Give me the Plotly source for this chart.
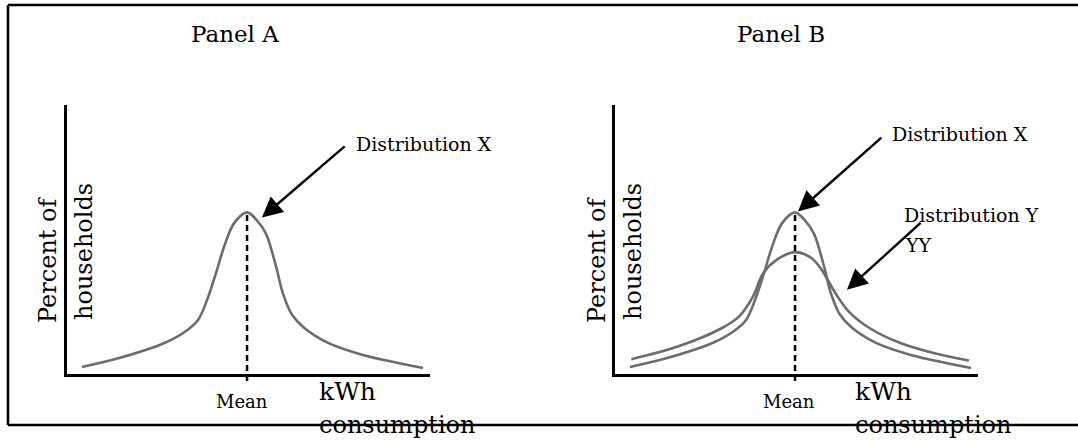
import plotly.graph_objects as go

# ---------------- data ----------------
# Distribution X: kWh consumption (arbitrary units, 0-100) vs percent of households
kwh_x = [4.1, 14.6, 27.0, 32.8, 36.1, 38.6, 41.0, 43.3, 46.0, 49.6, 52.3, 54.8,
         57.6, 59.5, 62.0, 65.3, 71.9, 81.5, 91.2, 98.1]
pct_x = [2.6, 6.0, 11.6, 16.0, 20.1, 27.6, 37.3, 47.4, 56.0, 60.1, 57.1, 52.2,
         39.9, 29.9, 22.0, 17.2, 11.6, 7.1, 4.1, 2.2]
# Distribution Y (panel B only)
kwh_y = [4.5, 17.3, 29.5, 34.2, 38.0, 40.9, 44.6, 49.5, 54.0, 56.9, 60.7, 64.4,
         70.1, 78.6, 88.0, 97.5]
pct_y = [5.5, 10.2, 17.1, 21.4, 28.8, 37.6, 42.5, 45.3, 43.2, 38.8, 30.1, 23.2,
         17.1, 11.5, 7.7, 5.0]
mean_kwh = 49.6

panel_titles = ["Panel A", "Panel B"]
y_title_lines = ["Percent of", "households"]
x_title_lines = ["kWh", "consumption"]
mean_label = "Mean"
label_x = "Distribution X"
label_y_lines = ["Distribution Y", "YY"]

# ---------------- layout helpers ----------------
W, H = 1078, 442
FONT = "DejaVu Serif"


def px(x):
    return x / W


def py(y):
    return 1 - y / H


Y_MIN_EXT = -2.6  # range floor of the helper axis that lets the mean line pass below the x axis

fig = go.Figure()
curve_line = dict(color="#6c6c6c", width=2.6, shape="spline", smoothing=1.0)
mean_line = dict(color="black", width=2.5, dash="6px,4px")

# Panel A
fig.add_trace(go.Scatter(x=kwh_x, y=pct_x, mode="lines", line=curve_line,
                         xaxis="x", yaxis="y", hoverinfo="skip", showlegend=False))
fig.add_trace(go.Scatter(x=[mean_kwh, mean_kwh], y=[Y_MIN_EXT, max(pct_x)], mode="lines",
                         line=mean_line, xaxis="x", yaxis="y3", hoverinfo="skip",
                         showlegend=False))
# Panel B
fig.add_trace(go.Scatter(x=kwh_y, y=pct_y, mode="lines", line=curve_line,
                         xaxis="x2", yaxis="y2", hoverinfo="skip", showlegend=False))
fig.add_trace(go.Scatter(x=kwh_x, y=pct_x, mode="lines", line=curve_line,
                         xaxis="x2", yaxis="y2", hoverinfo="skip", showlegend=False))
fig.add_trace(go.Scatter(x=[mean_kwh, mean_kwh], y=[Y_MIN_EXT, max(pct_x)], mode="lines",
                         line=mean_line, xaxis="x2", yaxis="y4", hoverinfo="skip",
                         showlegend=False))

ax_common = dict(range=[0, 100], showline=True, linecolor="black", linewidth=2.5,
                 showgrid=False, zeroline=False, showticklabels=False, ticks="",
                 fixedrange=True)
y_dom = [py(374), py(105)]
y_dom_ext = [py(381), py(105)]

fig.update_layout(
    width=W, height=H,
    margin=dict(l=0, r=0, t=0, b=0),
    paper_bgcolor="white", plot_bgcolor="rgba(0,0,0,0)",
    showlegend=False,
    xaxis=dict(domain=[px(67), px(430)], anchor="y", **ax_common),
    yaxis=dict(domain=y_dom, anchor="x", **ax_common),
    xaxis2=dict(domain=[px(615), px(978)], anchor="y2", **ax_common),
    yaxis2=dict(domain=y_dom, anchor="x2", **ax_common),
    yaxis3=dict(domain=y_dom_ext, anchor="x", range=[Y_MIN_EXT, 100], visible=False,
                fixedrange=True),
    yaxis4=dict(domain=y_dom_ext, anchor="x2", range=[Y_MIN_EXT, 100], visible=False,
                fixedrange=True),
)

# outer frame (open on the right)
for (x0, y0, x1, y1) in [(8, 5, 1078, 5), (8, 5, 8, 425), (8, 425, 1078, 425)]:
    fig.add_shape(type="line", xref="paper", yref="paper",
                  x0=px(x0), y0=py(y0), x1=px(x1), y1=py(y1),
                  line=dict(color="black", width=2.6))

ann = []


def text(x, y, s, size, xanchor="center", angle=0, yanchor="middle"):
    ann.append(dict(x=px(x), y=py(y), xref="paper", yref="paper", text=s,
                    showarrow=False, xanchor=xanchor, yanchor=yanchor,
                    textangle=angle, font=dict(family=FONT, size=size, color="black")))


def arrow(xr, yr, tip, tail):
    ann.append(dict(x=tip[0], y=tip[1], xref=xr, yref=yr,
                    ax=tail[0], ay=tail[1], axref=xr, ayref=yr, text="",
                    showarrow=True, arrowhead=2, arrowsize=1.7, arrowwidth=2.4,
                    arrowcolor="black", standoff=0, startstandoff=0))


# panel titles
text(235, 34, panel_titles[0], 23)
text(781, 34, panel_titles[1], 23)
# y titles
for off in (0, 549):
    text(48 + off, 260, y_title_lines[0], 24, angle=-90)
    text(84 + off, 252, y_title_lines[1], 24, angle=-90)
# x labels
text(242, 401, mean_label, 18)
text(789, 401, mean_label, 18)
for xl in (317, 853):
    text(xl, 391, x_title_lines[0], 25, xanchor="left")
    text(xl, 441, x_title_lines[1], 24, xanchor="left", yanchor="bottom")
# distribution labels
text(354, 144, label_x, 19, xanchor="left")
text(890, 134, label_x, 19, xanchor="left")
text(902, 215, label_y_lines[0], 19, xanchor="left")
text(903, 245, label_y_lines[1], 19, xanchor="left")
# arrows (tip -> tail in data units)
arrow("x", "y", (53.7, 58.2), (76.9, 85.1))
arrow("x2", "y2", (50.4, 60.4), (73.8, 88.4))
arrow("x2", "y2", (63.9, 31.3), (84.6, 56.7))

fig.update_layout(annotations=ann)
# remove the default page margin so the 1078x442 figure fills the window exactly
fig.write_html("out.html", config={"displayModeBar": False},
               post_script="document.body.style.margin='0px';")
